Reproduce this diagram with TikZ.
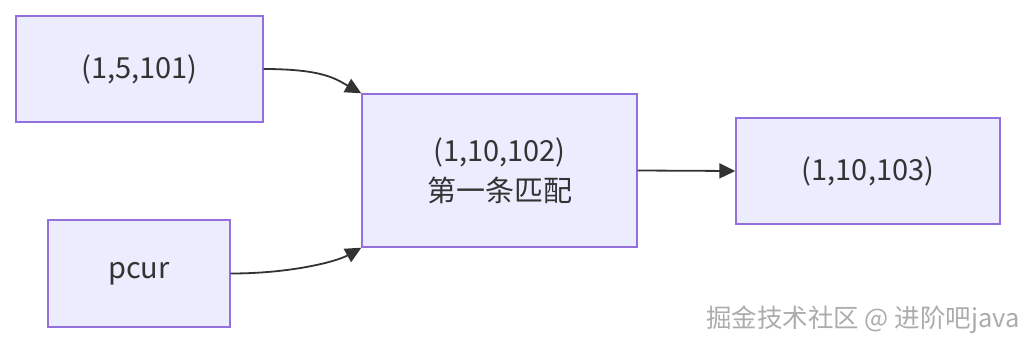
\documentclass[tikz,border=0pt]{standalone}
\usepackage{fontspec}
\setmainfont{Noto Sans CJK SC}
\usetikzlibrary{arrows.meta}
\definecolor{boxfill}{HTML}{ECECFF}
\definecolor{boxline}{HTML}{9370DB}
\definecolor{linkcol}{HTML}{333333}
\tikzset{
  box/.style={draw=boxline, fill=boxfill, line width=1.4pt, inner sep=0pt, align=center, font=\fontsize{29}{40}\selectfont, text=linkcol},
  link/.style={draw=linkcol, line width=1.8pt, -{Triangle[length=16pt,width=15pt]}}
}
\begin{document}
\begin{tikzpicture}[x=1pt,y=-1pt]
  \useasboundingbox (0,0) rectangle (1032,348);
  % boxes
  \node[box, minimum width=247pt, minimum height=106pt] (a) at (139.5,69) {(1,5,101)};
  \node[box, minimum width=182pt, minimum height=107pt] (p) at (139,273.5) {pcur};
  \node[box, minimum width=275pt, minimum height=153pt] (m) at (499.5,170.5) {(1,10,102)\\第一条匹配};
  \node[box, minimum width=264pt, minimum height=106pt] (r) at (868,171) {(1,10,103)};
  % links
  \draw[link] (a.east) .. controls +(60,0) and +(-25,-14) .. (m.north west);
  \draw[link] (p.east) .. controls +(60,0) and +(-25,14) .. (m.south west);
  \draw[link] (m.east) -- (r.west);
  % watermark
  \node[text=gray!65, font=\fontsize{25.5}{30}\selectfont] (wm) at (863,320) {掘金技术社区 @ 进阶吧java};
\end{tikzpicture}
\end{document}
